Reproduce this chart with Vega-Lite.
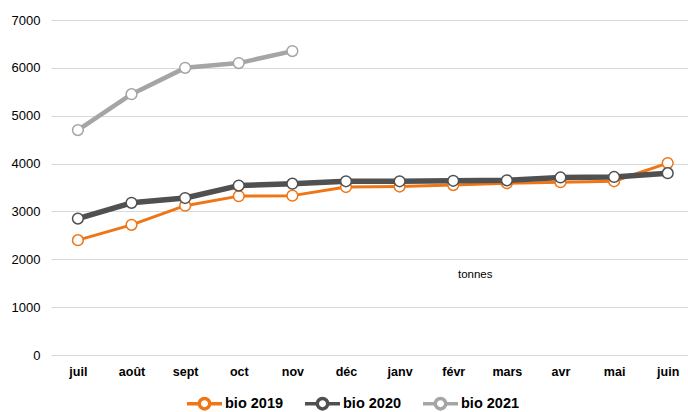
{
  "$schema": "https://vega.github.io/schema/vega-lite/v6.json",
  "autosize": {"type": "none"},
  "width": 637,
  "height": 335,
  "padding": {"left": 51, "top": 20, "right": 0, "bottom": 57},
  "background": "white",
  "config": {
    "view": {"stroke": null},
    "font": "Liberation Sans",
    "axis": {"labelFont": "Liberation Sans", "titleFont": "Liberation Sans"},
    "legend": {"labelFont": "Liberation Sans"}
  },
  "datasets": {
    "series": [
      {"mois": "juil", "serie": "bio 2019", "v": 2400},
      {"mois": "août", "serie": "bio 2019", "v": 2720},
      {"mois": "sept", "serie": "bio 2019", "v": 3120},
      {"mois": "oct", "serie": "bio 2019", "v": 3320},
      {"mois": "nov", "serie": "bio 2019", "v": 3330},
      {"mois": "déc", "serie": "bio 2019", "v": 3510},
      {"mois": "janv", "serie": "bio 2019", "v": 3520},
      {"mois": "févr", "serie": "bio 2019", "v": 3550},
      {"mois": "mars", "serie": "bio 2019", "v": 3590},
      {"mois": "avr", "serie": "bio 2019", "v": 3610},
      {"mois": "mai", "serie": "bio 2019", "v": 3630},
      {"mois": "juin", "serie": "bio 2019", "v": 4010},
      {"mois": "juil", "serie": "bio 2020", "v": 2850},
      {"mois": "août", "serie": "bio 2020", "v": 3180},
      {"mois": "sept", "serie": "bio 2020", "v": 3280},
      {"mois": "oct", "serie": "bio 2020", "v": 3540},
      {"mois": "nov", "serie": "bio 2020", "v": 3580},
      {"mois": "déc", "serie": "bio 2020", "v": 3630},
      {"mois": "janv", "serie": "bio 2020", "v": 3630},
      {"mois": "févr", "serie": "bio 2020", "v": 3640},
      {"mois": "mars", "serie": "bio 2020", "v": 3650},
      {"mois": "avr", "serie": "bio 2020", "v": 3710},
      {"mois": "mai", "serie": "bio 2020", "v": 3720},
      {"mois": "juin", "serie": "bio 2020", "v": 3800},
      {"mois": "juil", "serie": "bio 2021", "v": 4700},
      {"mois": "août", "serie": "bio 2021", "v": 5450},
      {"mois": "sept", "serie": "bio 2021", "v": 6000},
      {"mois": "oct", "serie": "bio 2021", "v": 6100},
      {"mois": "nov", "serie": "bio 2021", "v": 6350}
    ],
    "label": [{"mois": "févr", "v": 1670, "t": "tonnes"}]
  },
  "encoding": {
    "x": {
      "field": "mois", "type": "ordinal",
      "sort": ["juil","août","sept","oct","nov","déc","janv","févr","mars","avr","mai","juin"],
      "scale": {"type": "point", "padding": 0.44, "align": 0.57},
      "axis": {"title": null, "domain": false, "ticks": false, "labelAngle": 0, "labelFontWeight": "bold", "labelFontSize": 12.5, "labelColor": "#000000", "labelPadding": 10, "grid": false}
    },
    "y": {
      "field": "v", "type": "quantitative",
      "scale": {"domain": [0, 7000]},
      "axis": {"title": null, "domain": false, "ticks": false, "format": "d", "values": [0,1000,2000,3000,4000,5000,6000,7000], "labelFontSize": 13, "labelColor": "#000000", "labelPadding": 11, "gridColor": "#d9d9d9", "gridWidth": 1}
    }
  },
  "layer": [
    {
      "data": {"name": "series"},
      "encoding": {
        "color": {
          "field": "serie", "type": "nominal",
          "scale": {"domain": ["bio 2019","bio 2020","bio 2021"], "range": ["#F07515","#505050","#A5A5A5"]},
          "legend": {
            "title": null, "orient": "none", "direction": "horizontal",
            "legendX": 134, "legendY": 364,
            "labelFontSize": 14.5, "labelFontWeight": "bold", "labelColor": "#000000",
            "symbolType": "M-1,0L-0.3,0M0.3,0A0.3,0.3 0 1,1 -0.3,0A0.3,0.3 0 1,1 0.3,0M0.3,0L1,0",
            "symbolSize": 1225, "symbolStrokeWidth": 3.5, "symbolFillColor": "white",
            "labelOffset": 1, "columnPadding": 14,
            "symbolOpacity": 1,
            "encode": {"symbols": {"update": {"fill": {"value": "white"}, "fillOpacity": {"value": 1}, "strokeWidth": {"value": 3.5}}}}
          }
        }
      },
      "layer": [
        {"transform": [{"filter": "datum.serie == 'bio 2019'"}], "mark": {"type": "line", "strokeWidth": 3, "strokeJoin": "round", "strokeCap": "round"}},
        {"transform": [{"filter": "datum.serie == 'bio 2019'"}], "mark": {"type": "point", "filled": false, "fill": "white", "fillOpacity": 1, "opacity": 1, "size": 115, "strokeWidth": 1.5}},
        {"transform": [{"filter": "datum.serie == 'bio 2020'"}], "mark": {"type": "line", "strokeWidth": 5.5, "strokeJoin": "round", "strokeCap": "round"}},
        {"transform": [{"filter": "datum.serie == 'bio 2020'"}], "mark": {"type": "point", "filled": false, "fill": "white", "fillOpacity": 1, "opacity": 1, "size": 115, "strokeWidth": 1.5}},
        {"transform": [{"filter": "datum.serie == 'bio 2021'"}], "mark": {"type": "line", "strokeWidth": 4.5, "strokeJoin": "round", "strokeCap": "round"}},
        {"transform": [{"filter": "datum.serie == 'bio 2021'"}], "mark": {"type": "point", "filled": false, "fill": "white", "fillOpacity": 1, "opacity": 1, "size": 115, "strokeWidth": 1.5}}
      ]
    },
    {
      "data": {"name": "label"},
      "mark": {"type": "text", "fontSize": 11.5, "fill": "#000000", "dx": 22},
      "encoding": {
        "text": {"field": "t"}
      }
    }
  ]
}
